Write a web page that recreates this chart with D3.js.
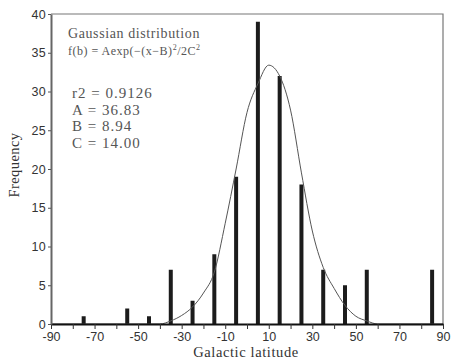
<!DOCTYPE html>
<html>
<head>
<meta charset="utf-8">
<script src="https://cdn.jsdelivr.net/npm/d3@7"></script>
<style>
  body { margin: 0; background: #fff; }
  svg { display: block; }
</style>
</head>
<body>
<div id="chart"></div>
<script>
// histogram of galactic latitude (bin centres) and counts
const binCenters = [-75, -55, -45, -35, -25, -15, -5, 5, 15, 25, 35, 45, 55, 85];
const counts = [1, 2, 1, 7, 3, 9, 19, 39, 32, 18, 7, 5, 7, 7];

// fitted curve, points
const curveX = [-90, -40, -35, -30, -25, -20, -15, -10, -5, 0, 5, 10, 15, 20, 25, 30, 35, 40, 45, 50, 55, 60, 90];
const curveY = [0, 0, 0.4, 1.1, 2.2, 4, 6.7, 13, 20, 27.3, 31, 33.4, 32, 27.6, 19.5, 12, 7.3, 4.6, 2.4, 1.0, 0.4, 0, 0];

const xTicks = [-90, -80, -70, -60, -50, -40, -30, -20, -10, 0, 10, 20, 30, 40, 50, 60, 70, 80, 90];
const yTicks = [0, 5, 10, 15, 20, 25, 30, 35, 40];

const fitLines = ["r2 = 0.9126", "A = 36.83", "B = 8.94", "C = 14.00"];

const W = 451, H = 359;
const margin = { top: 14, right: 8, bottom: 35, left: 51 };

const svg = d3.select("#chart").append("svg")
    .attr("width", W)
    .attr("height", H);

const x = d3.scaleLinear()
    .domain([-90, 90])
    .range([margin.left, W - margin.right]);

const y = d3.scaleLinear()
    .domain([0, 40])
    .range([H - margin.bottom, margin.top]);

// frame: top and right
svg.append("path")
    .attr("d", `M${x(-90)},${y(40)}H${x(90)}V${y(0)}`)
    .attr("fill", "none")
    .attr("stroke", "#777")
    .attr("stroke-width", 1.2);

// bars
svg.selectAll(".bar")
    .data(binCenters)
    .enter().append("rect")
    .attr("class", "bar")
    .attr("x", (d) => x(d) - 2)
    .attr("width", 4)
    .attr("y", (d, i) => y(counts[i]))
    .attr("height", (d, i) => y(0) - y(counts[i]))
    .attr("fill", "#1c1c1c");

// gaussian curve
const line = d3.line()
    .x((d) => x(d))
    .y((d, i) => y(curveY[i]))
    .curve(d3.curveMonotoneX);

svg.append("path")
    .datum(curveX)
    .attr("d", line)
    .attr("fill", "none")
    .attr("stroke", "#555")
    .attr("stroke-width", 1);

// axes
const xAxis = svg.append("g")
    .attr("transform", `translate(0,${y(0)})`)
    .call(d3.axisBottom(x)
        .tickValues(xTicks)
        .tickSize(5)
        .tickSizeOuter(0)
        .tickFormat((d) => (d + 90) % 20 === 0 ? d : ""));

xAxis.select(".domain").attr("stroke", "#111").attr("stroke-width", 2);
xAxis.selectAll(".tick line").attr("stroke", "#333");
xAxis.selectAll(".tick text")
    .attr("y", 6)
    .attr("dy", "0.9em")
    .style("font-family", "'Liberation Sans', Arial, sans-serif")
    .style("font-size", "12.5px")
    .style("fill", "#333");

const yAxis = svg.append("g")
    .attr("transform", `translate(${x(-90)},0)`)
    .call(d3.axisLeft(y)
        .tickValues(yTicks)
        .tickSize(3)
        .tickSizeOuter(0));

yAxis.select(".domain").attr("stroke", "#666").attr("stroke-width", 2);
yAxis.selectAll(".tick line").attr("stroke", "#555");
yAxis.selectAll(".tick text")
    .attr("x", -5)
    .style("font-family", "'Liberation Sans', Arial, sans-serif")
    .style("font-size", "12.5px")
    .style("letter-spacing", "0.3px")
    .style("fill", "#333");

const serif = "'Liberation Serif', 'Times New Roman', serif";

// axis titles
svg.append("text")
    .attr("x", 246)
    .attr("y", 357)
    .attr("text-anchor", "middle")
    .style("font-family", serif)
    .style("font-size", "14.5px")
    .style("letter-spacing", "0.6px")
    .style("fill", "#333")
    .text("Galactic latitude");

svg.append("text")
    .attr("transform", "translate(19,165) rotate(-90)")
    .attr("text-anchor", "middle")
    .style("font-family", serif)
    .style("font-size", "14.5px")
    .style("letter-spacing", "0.4px")
    .style("fill", "#333")
    .text("Frequency");

// annotation
svg.append("text")
    .attr("x", 68)
    .attr("y", 38)
    .style("font-family", serif)
    .style("font-size", "14px")
    .style("letter-spacing", "0.6px")
    .style("fill", "#555")
    .text("Gaussian distribution");

const formula = svg.append("text")
    .attr("x", 68)
    .attr("y", 55)
    .style("font-family", serif)
    .style("font-size", "12px")
    .style("letter-spacing", "0.5px")
    .style("fill", "#555");
formula.append("tspan").text("f(b) = Aexp(\u2212(x\u2212B)");
formula.append("tspan").attr("dy", -5).style("font-size", "8px").text("2");
formula.append("tspan").attr("dy", 5).text("/2C");
formula.append("tspan").attr("dy", -5).style("font-size", "8px").text("2");

svg.selectAll(".fit")
    .data(fitLines)
    .enter().append("text")
    .attr("class", "fit")
    .attr("x", 72)
    .attr("y", (d, i) => 98 + i * 16.7)
    .style("font-family", serif)
    .style("font-size", "15px")
    .style("letter-spacing", "1px")
    .style("fill", "#555")
    .text((d) => d);
</script>
</body>
</html>
